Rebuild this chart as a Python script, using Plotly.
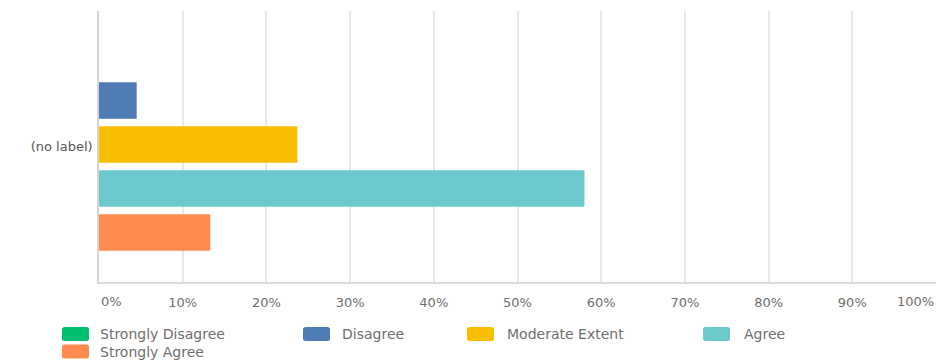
import plotly.graph_objects as go

categories = ["(no label)"]
series_names = ["Strongly Disagree", "Disagree", "Moderate Extent", "Agree", "Strongly Agree"]
values = [0.0, 4.5, 23.7, 58.0, 13.3]
colors = ["#00BF6F", "#507CB6", "#F9BE00", "#6BC8CD", "#FF8B4F"]
tick_vals = [0, 10, 20, 30, 40, 50, 60, 70, 80, 90, 100]
tick_text = ["0%", "10%", "20%", "30%", "40%", "50%", "60%", "70%", "80%", "90%", "100%"]

W, H = 937, 363
ML, MR, MT, MB = 99, 1, 11, 81
PW = W - ML - MR
PH = H - MT - MB
FONT = "DejaVu Sans"
LABEL_COLOR = "#6f6f6f"


def px_x(px):
    return (px - ML) / PW


def px_y(py):
    return (H - MB - py) / PH


def rounded_rect(x0, y0, x1, y1, r=2.5):
    # pixel box -> paper path with rounded corners
    pts = [
        f"M{px_x(x0 + r)},{px_y(y0)}",
        f"L{px_x(x1 - r)},{px_y(y0)}",
        f"Q{px_x(x1)},{px_y(y0)} {px_x(x1)},{px_y(y0 + r)}",
        f"L{px_x(x1)},{px_y(y1 - r)}",
        f"Q{px_x(x1)},{px_y(y1)} {px_x(x1 - r)},{px_y(y1)}",
        f"L{px_x(x0 + r)},{px_y(y1)}",
        f"Q{px_x(x0)},{px_y(y1)} {px_x(x0)},{px_y(y1 - r)}",
        f"L{px_x(x0)},{px_y(y0 + r)}",
        f"Q{px_x(x0)},{px_y(y0)} {px_x(x0 + r)},{px_y(y0)}",
        "Z",
    ]
    return " ".join(pts)


fig = go.Figure()
for name, v, c in zip(series_names, values, colors):
    fig.add_trace(go.Bar(
        y=categories, x=[v], name=name, orientation="h",
        marker=dict(color=c, line=dict(width=0)),
        showlegend=False, hoverinfo="x+name",
    ))

# manual legend (positions in pixels)
legend_items = [
    (62, 334, 98),
    (303, 334, 340),
    (467, 334, 505),
    (703, 334, 742),
    (62, 351.5, 98),
]
shapes = []
annotations = []
for (sx, cy, tx), name, c in zip(legend_items, series_names, colors):
    shapes.append(dict(
        type="path", xref="paper", yref="paper",
        path=rounded_rect(sx, cy - 7, sx + 27, cy + 7),
        fillcolor=c, line=dict(width=0), layer="above",
    ))
    annotations.append(dict(
        xref="paper", yref="paper", x=px_x(tx), y=px_y(cy),
        xanchor="left", yanchor="middle", showarrow=False, text=name,
        font=dict(family=FONT, size=14, color=LABEL_COLOR),
    ))

# end tick labels aligned inside
label_y = px_y(301)
annotations.append(dict(xref="x", yref="paper", x=tick_vals[0], y=label_y,
                        xanchor="left", yanchor="middle", showarrow=False,
                        text=tick_text[0],
                        font=dict(family=FONT, size=13, color=LABEL_COLOR)))
annotations.append(dict(xref="x", yref="paper", x=tick_vals[-1], y=label_y,
                        xanchor="right", yanchor="middle", showarrow=False,
                        text=tick_text[-1],
                        font=dict(family=FONT, size=13, color=LABEL_COLOR)))

shift = 2.0 / PH
fig.update_layout(
    width=W, height=H,
    margin=dict(l=ML, r=MR, t=MT, b=MB),
    paper_bgcolor="white", plot_bgcolor="white",
    barmode="group", bargap=0.188, bargroupgap=0.168,
    shapes=shapes, annotations=annotations,
    font=dict(family=FONT),
)
fig.update_xaxes(
    range=[0, 100], tickvals=tick_vals[1:-1], ticktext=tick_text[1:-1],
    showgrid=True, gridcolor="#e8e8e8", gridwidth=1.5,
    showline=True, linecolor="#dcdcdc", linewidth=1.5,
    zeroline=False, ticks="", ticklabelstandoff=8,
    tickfont=dict(family=FONT, size=13, color=LABEL_COLOR),
)
fig.update_yaxes(
    type="category", range=[0.5 + shift, -0.5 + shift],
    showline=True, linecolor="#d5d5d5", linewidth=1.5,
    showgrid=False, ticks="", ticklabelstandoff=2, ticklabelshift=-2,
    tickfont=dict(family=FONT, size=13, color="#555555"),
)

fig.write_html("out.html")
